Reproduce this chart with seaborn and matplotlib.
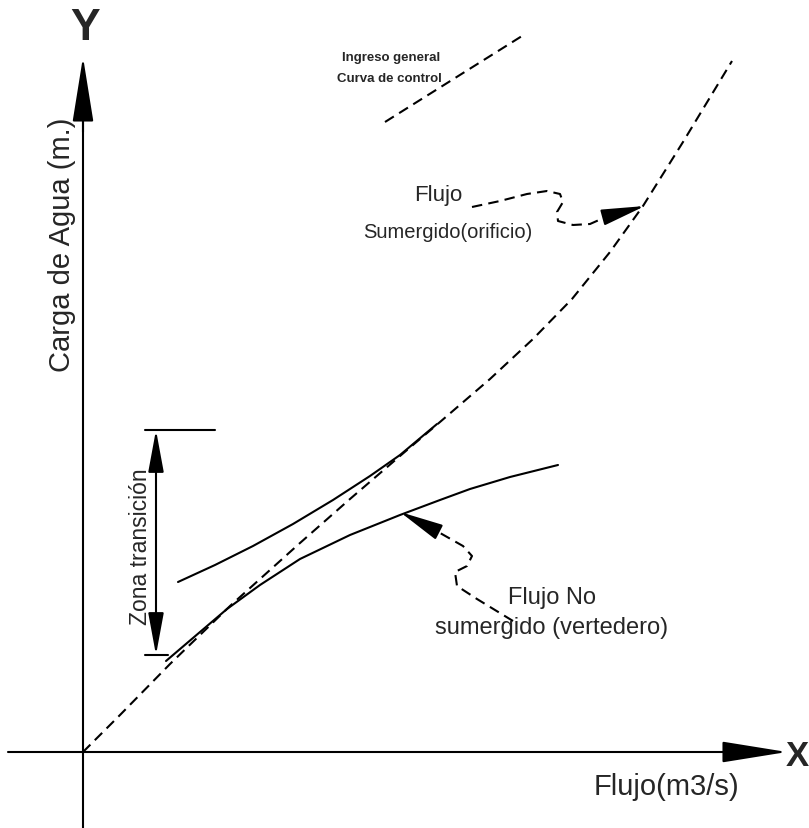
import matplotlib
matplotlib.use("Agg")
import matplotlib.pyplot as plt
import seaborn as sns
import numpy as np
import pandas as pd

sns.set_style("white")
FONT = ["Liberation Sans Narrow", "Liberation Sans", "DejaVu Sans"]
plt.rcParams["font.family"] = FONT

# Rating curves (flow on x, water head on y), schematic units
control_q = [0, 37, 87, 147, 217, 267, 317, 357, 407, 450, 489, 527, 560, 600, 649]
control_h = [0, 37, 88, 146, 209, 253, 296, 330, 373, 413, 453, 500, 546, 610, 691]

weir_q = [83, 117, 144, 177, 217, 267, 317, 357, 387, 427, 475]
weir_h = [91, 120, 143, 167, 193, 217, 237, 252, 263, 275, 287]

orifice_q = [95, 132, 170, 210, 250, 287, 317, 354]
orifice_h = [170, 187, 206, 228, 252, 276, 297, 328]

# Transition zone limits on the head axis
zone_q = 73
zone_low, zone_high = 97, 322

# Callout leaders
orif_lead_q = [389, 417, 444, 464, 477, 480, 474, 475, 490, 507, 525]
orif_lead_h = [545, 551, 558, 561, 558, 550, 540, 531, 527, 528, 536]
orif_tip = (562, 546)

weir_lead_q = [430, 394, 374, 372, 384, 389, 380, 350]
weir_lead_h = [131, 153, 166, 180, 186, 196, 206, 223]
weir_tip = (317, 240)

legend_q = [302, 439]
legend_h = [630, 716]

fig = plt.figure(figsize=(8.09, 8.29), dpi=100)
ax = fig.add_axes([0, 0, 1, 1])
ax.set_xlim(-83, 726)
ax.set_ylim(-76, 753)
ax.axis("off")

LW = 1.5
DASH = (0, (5, 3))

# Coordinate axes with arrowheads
ax.plot([-75, 660], [0, 0], color="black", lw=LW)
ax.plot([0, 0], [-76, 650], color="black", lw=LW)
ax.annotate("", xy=(704, 0), xytext=(640, 0),
            arrowprops=dict(arrowstyle="-|>,head_length=2.05,head_width=0.33",
                            mutation_scale=20, color="black", lw=LW,
                            shrinkA=0, shrinkB=0))
ax.annotate("", xy=(0, 695), xytext=(0, 620),
            arrowprops=dict(arrowstyle="-|>,head_length=2.05,head_width=0.33",
                            mutation_scale=20, color="black", lw=LW,
                            shrinkA=0, shrinkB=0))
ax.text(2, 725, "Y", fontsize=32, fontweight="bold", ha="center", va="center")
ax.text(703, -4, "X", fontsize=25, fontweight="bold", ha="left", va="center")
ax.text(-21, 508, "Carga de Agua (m.)", fontsize=21, rotation=90,
        ha="center", va="center")
ax.text(583, -34, "Flujo(m3/s)", fontsize=21, ha="center", va="center")

# Curves
sns.lineplot(x=control_q, y=control_h, sort=False, estimator=None, ax=ax,
             color="black", lw=LW, linestyle=DASH)
sns.lineplot(x=weir_q, y=weir_h, sort=False, estimator=None, ax=ax,
             color="black", lw=LW)
sns.lineplot(x=orifice_q, y=orifice_h, sort=False, estimator=None, ax=ax,
             color="black", lw=LW)

# Transition zone dimension
ax.plot([62, 132], [zone_high, zone_high], color="black", lw=LW)
ax.plot([62, 85], [zone_low, zone_low], color="black", lw=LW)
ax.annotate("", xy=(zone_q, zone_low), xytext=(zone_q, zone_high),
            arrowprops=dict(arrowstyle="<|-|>,head_length=1.3,head_width=0.24",
                            mutation_scale=20, color="black", lw=LW,
                            shrinkA=0, shrinkB=0))
ax.text(58, 206, "Zona transición", fontsize=16.5, rotation=90,
        ha="center", va="center")

# Callouts
sns.lineplot(x=orif_lead_q, y=orif_lead_h, sort=False, estimator=None, ax=ax,
             color="black", lw=LW, linestyle=DASH)
ax.annotate("", xy=orif_tip, xytext=(orif_lead_q[-1], orif_lead_h[-1]),
            arrowprops=dict(arrowstyle="-|>,head_length=1.35,head_width=0.25",
                            mutation_scale=20, color="black", lw=LW,
                            shrinkA=0, shrinkB=0))
ax.text(331, 557, "Flujo", fontsize=16, ha="left", va="center")
ax.text(449, 521, "Sumergido(orificio)", fontsize=14.5, ha="right", va="center")

sns.lineplot(x=weir_lead_q, y=weir_lead_h, sort=False, estimator=None, ax=ax,
             color="black", lw=LW, linestyle=DASH)
ax.annotate("", xy=weir_tip, xytext=(weir_lead_q[-1], weir_lead_h[-1]),
            arrowprops=dict(arrowstyle="-|>,head_length=1.35,head_width=0.25",
                            mutation_scale=20, color="black", lw=LW,
                            shrinkA=0, shrinkB=0))
ax.text(469, 155, "Flujo No", fontsize=17, ha="center", va="center")
ax.text(469, 125, "sumergido (vertedero)", fontsize=17, ha="center", va="center")

# Key
sns.lineplot(x=legend_q, y=legend_h, sort=False, estimator=None, ax=ax,
             color="black", lw=LW, linestyle=DASH)
ax.text(357, 695, "Ingreso general", fontsize=9.5, fontweight="bold",
        ha="right", va="center")
ax.text(359, 674, "Curva de control", fontsize=9.5, fontweight="bold",
        ha="right", va="center")

fig.savefig("out.png", dpi=100, facecolor="white")
